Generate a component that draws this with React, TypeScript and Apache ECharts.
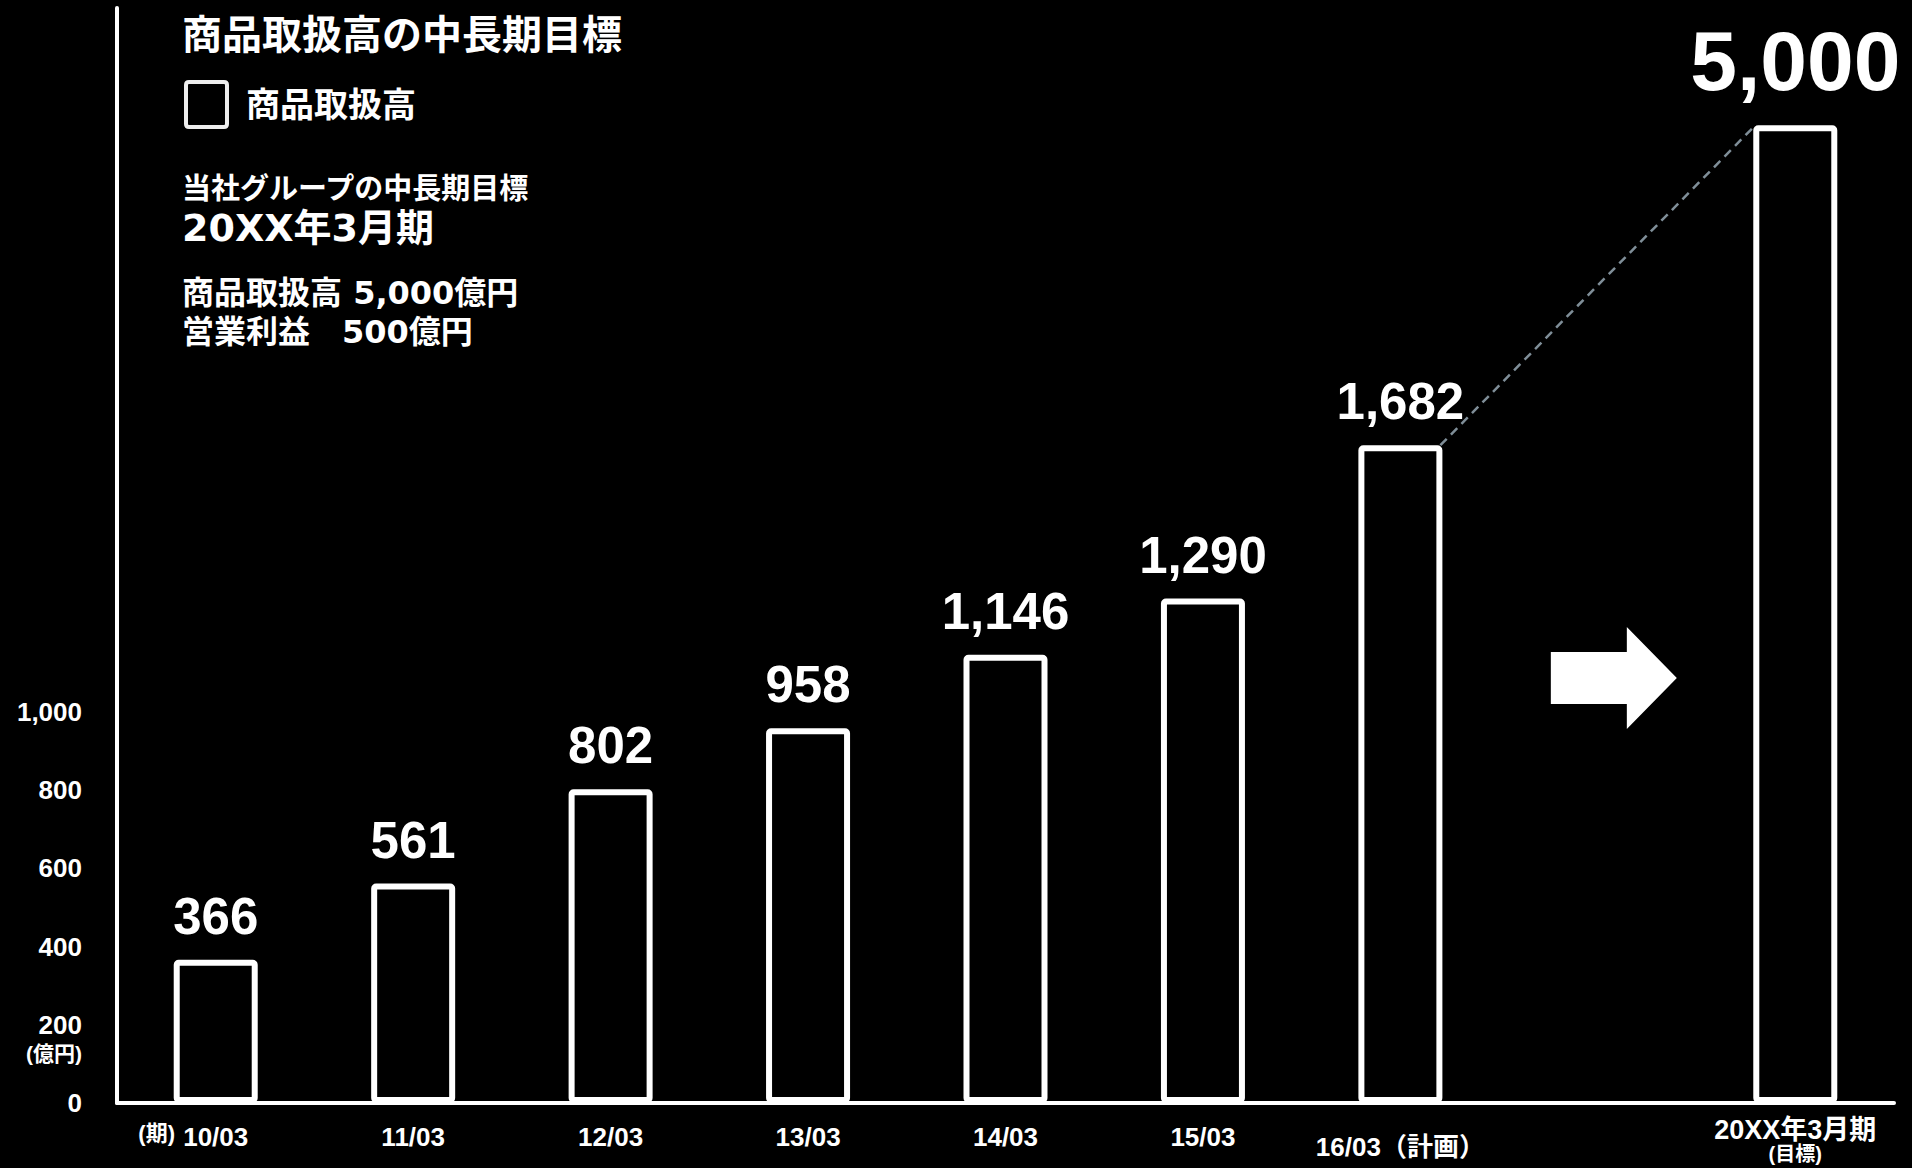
import React, { useEffect, useRef } from "react";
import * as echarts from "echarts";

// ---- data ----
const PERIODS = ["10/03", "11/03", "12/03", "13/03", "14/03", "15/03", "16/03（計画）", "", "20XX年3月期"];
const SALES: (number | null)[] = [366, 561, 802, 958, 1146, 1290, 1682, null, 5000]; // 億円
const TARGET_INDEX = 8;
const TARGET_DRAWN = 2500; // target bar is drawn truncated (not to scale)
const Y_LABEL_MAX = 1000; // tick labels shown only up to this value
const Y_MAX = 2800;
const Y_INTERVAL = 200;
const TITLE = "商品取扱高の中長期目標";
const SERIES_NAME = "商品取扱高";
const INFO_HEAD = "当社グループの中長期目標";
const INFO_PERIOD = "20XX年3月期";
const INFO_LINES = ["商品取扱高 5,000億円", "営業利益　500億円"];
const Y_UNIT = "(億円)";
const X_UNIT = "(期)";
const TARGET_NOTE = "(目標)";

const BAR_WIDTH = 84;
const FONT = "'Liberation Sans', 'Noto Sans CJK JP', sans-serif";
const WIDE_FONT = "'DejaVu Sans', 'Noto Sans CJK JP', sans-serif";

export default function App() {
  const ref = useRef<HTMLDivElement>(null);
  useEffect(() => {
    const chart = echarts.init(ref.current!, null, { renderer: "svg" });
    const option: any = {
      animation: false,
      backgroundColor: "#000",
      textStyle: { fontFamily: FONT },
      grid: { left: 117, right: 18, top: 8, bottom: 65, containLabel: false, outerBoundsMode: "none" },
      legend: {
        data: [SERIES_NAME],
        left: 184,
        top: 80,
        padding: 0,
        icon: "path://M3,0 H38 Q41,0 41,3 V42 Q41,45 38,45 H3 Q0,45 0,42 V3 Q0,0 3,0 Z",
        itemWidth: 41,
        itemHeight: 45,
        itemStyle: { color: "#000", borderColor: "#eeeeee", borderWidth: 4 },
        textStyle: { color: "#fff", fontSize: 34, fontWeight: "bold", fontFamily: FONT, padding: [0, 0, 0, 14] },
      },
      xAxis: {
        type: "category",
        data: PERIODS,
        axisTick: { show: false },
        axisLine: { lineStyle: { color: "#fff", width: 4 } },
        axisLabel: {
          interval: 0,
          margin: 14,
          color: "#fff",
          fontFamily: FONT,
          fontWeight: "bold",
          formatter: (v: string, i: number) => {
            if (!v) return "";
            if (i === TARGET_INDEX) return `{t|${v}}\n{s|${TARGET_NOTE}}`;
            if (i === 6) return `{p|${v}}`;
            return `{a|${v}}`;
          },
          rich: {
            a: { fontSize: 26, lineHeight: 26, padding: [13, 0, 0, 0], color: "#fff", fontWeight: "bold", fontFamily: FONT },
            p: { fontSize: 26, lineHeight: 26, padding: [33, 0, 0, 0], color: "#fff", fontWeight: "bold", fontFamily: FONT },
            t: { fontSize: 27, lineHeight: 26, color: "#fff", fontWeight: "bold", fontFamily: FONT },
            s: { fontSize: 20, lineHeight: 22, color: "#fff", fontWeight: "bold", fontFamily: FONT },
          },
        },
      },
      yAxis: {
        type: "value",
        min: 0,
        max: Y_MAX,
        interval: Y_INTERVAL,
        splitLine: { show: false },
        axisTick: { show: false },
        axisLine: { show: true, lineStyle: { color: "#fff", width: 4 } },
        axisLabel: {
          margin: 35,
          color: "#fff",
          fontSize: 26,
          fontWeight: "bold",
          fontFamily: FONT,
          formatter: (v: number) => (v <= Y_LABEL_MAX ? v.toLocaleString("en-US") : ""),
        },
      },
      series: [
        {
          name: SERIES_NAME,
          type: "bar",
          barWidth: BAR_WIDTH,
          itemStyle: { color: "#000", borderColor: "#fff", borderWidth: 6, borderRadius: 2 },
          label: {
            show: true,
            position: "top",
            distance: 18,
            color: "#fff",
            fontSize: 51,
            fontWeight: "bold",
            fontFamily: FONT,
            formatter: (p: any) => (SALES[p.dataIndex] as number).toLocaleString("en-US"),
          },
          data: SALES.map((v, i) =>
            v == null
              ? "-"
              : i === TARGET_INDEX
              ? { value: TARGET_DRAWN, label: { fontSize: 84, distance: 22 } }
              : v
          ),
        },
      ],
    };
    chart.setOption(option);

    const half = BAR_WIDTH / 2 - 2;
    const from = chart.convertToPixel({ gridIndex: 0 }, [6, SALES[6] as number]) as number[];
    const to = chart.convertToPixel({ gridIndex: 0 }, [TARGET_INDEX, TARGET_DRAWN]) as number[];
    const gapX = (chart.convertToPixel({ gridIndex: 0 }, [7, 0]) as number[])[0];
    const ax = gapX + 16;
    const ay = 678;
    const zero = chart.convertToPixel({ gridIndex: 0 }, [0, 0]) as number[];
    const y200 = chart.convertToPixel({ gridIndex: 0 }, [0, 200]) as number[];

    const txt = (text: string, x: number, y: number, size: number, extra: any = {}, family = FONT) => ({
      type: "text",
      x,
      y,
      style: { text, fill: "#fff", font: `bold ${size}px ${family}`, verticalAlign: "middle", align: "left", ...extra },
    });

    chart.setOption({
      graphic: [
        txt(TITLE, 182, 35, 40),
        txt(INFO_HEAD, 182, 189, 29),
        txt(INFO_PERIOD, 182, 228, 38, {}, WIDE_FONT),
        txt(INFO_LINES[0], 182, 293, 32, {}, WIDE_FONT),
        txt(INFO_LINES[1], 182, 332, 32, {}, WIDE_FONT),
        txt(Y_UNIT, 82, y200[1] + 29, 21, { align: "right" }),
        txt(X_UNIT, 175, zero[1] + 30, 22, { align: "right" }),
        {
          type: "line",
          shape: { x1: from[0] + half, y1: from[1], x2: to[0] - half, y2: to[1] },
          style: { stroke: "#7f8e98", lineWidth: 2.5, lineDash: [9, 6] },
        },
        {
          type: "polygon",
          shape: {
            points: [
              [ax - 63, ay - 26],
              [ax + 13, ay - 26],
              [ax + 13, ay - 51],
              [ax + 63, ay],
              [ax + 13, ay + 51],
              [ax + 13, ay + 26],
              [ax - 63, ay + 26],
            ],
          },
          style: { fill: "#fff" },
        },
      ],
    });

    return () => chart.dispose();
  }, []);
  return <div ref={ref} style={{ position: "absolute", left: 0, top: 0, width: 1912, height: 1168 }} />;
}
